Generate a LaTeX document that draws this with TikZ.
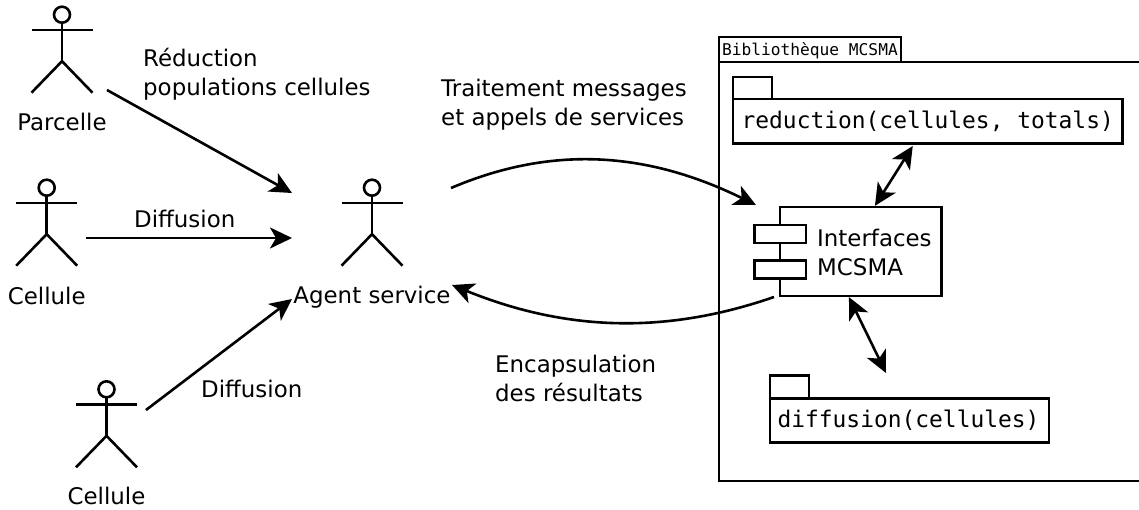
\documentclass[tikz,border=0pt]{standalone}
\usepackage{fontspec}
\setmainfont{DejaVu Sans}
\setmonofont{DejaVu Sans Mono}
\usetikzlibrary{arrows.meta,calc}
\tikzset{
  ln/.style={line width=2.6pt,draw=black},
  conn/.style={line width=2.6pt,draw=black,-{Stealth[length=22pt,width=21pt,inset=6pt]}},
  biconn/.style={line width=2.6pt,draw=black,{Stealth[length=22pt,width=21pt,inset=6pt]}-{Stealth[length=22pt,width=21pt,inset=6pt]}},
  lab/.style={inner sep=0pt,anchor=base west,font=\fontsize{22.9}{27}\selectfont},
  actorlab/.style={inner sep=0pt,anchor=base,font=\fontsize{22.9}{27}\selectfont},
  head/.style={circle,ln,fill=white,minimum size=16pt,inner sep=0pt,outer sep=0pt},
  box/.style={ln,fill=white,rectangle,inner sep=0pt,outer sep=0pt,anchor=north west},
  code/.style={box,font=\ttfamily\fontsize{22.9}{27}\selectfont,text height=19pt,text depth=5.5pt},
}
\newcommand{\myactor}[3]{%
  \node[head] (#1) at (#2,#3) {};
  \draw[ln] (#1.south) -- ++(0,38);
  \draw[ln] ($(#1.center)+(-30.5,15.3)$) -- ($(#1.center)+(30.5,15.3)$);
  \draw[ln] ($(#1.center)+(-30.5,78)$) -- ($(#1.center)+(0,46.5)$) -- ($(#1.center)+(30.5,78)$);
}
\begin{document}
\begin{tikzpicture}[x=1pt,y=-1pt]
\useasboundingbox (0,0) rectangle (1139,509);
% library frame
\draw[ln] (1139,62) -- (719,62) -- (719,481) -- (1139,481);
\node[box,minimum width=182pt,minimum height=25pt] (libtab) at (719,37) {};
\node[inner sep=0pt,anchor=base west,font=\ttfamily\fontsize{16.2}{19}\selectfont] (libtitle) at (722,55) {Bibliothèque MCSMA};
% actors
\myactor{parcelle}{62}{14.7}
\myactor{cellA}{46.7}{187.7}
\myactor{agent}{372}{187.7}
\myactor{cellB}{106.5}{389.3}
\node[actorlab] (parcellelab) at (62,130) {Parcelle};
\node[actorlab] (cellAlab) at (46.7,304) {Cellule};
\node[actorlab] (agentlab) at (372,303) {Agent service};
\node[actorlab] (cellBlab) at (106.5,504) {Cellule};
% sub packages
\node[box,minimum width=39pt,minimum height=23pt] (redtab) at (733,77) {};
\node[code,minimum width=389.5pt,minimum height=44.5pt] (redbody) at (733,99) {reduction(cellules, totals)};
\node[box,minimum width=39pt,minimum height=23pt] (difftab) at (770,375.7) {};
\node[code,minimum width=279pt,minimum height=44pt] (diffbody) at (770,398.5) {diffusion(cellules)\kern2pt};
% component
\node[box,minimum width=161.5pt,minimum height=89.3pt] (comp) at (780,206.8) {};
\node[box,minimum width=51.5pt,minimum height=18pt] (portA) at (754.5,225) {};
\node[box,minimum width=51.5pt,minimum height=18pt] (portB) at (754.5,260.5) {};
\node[lab] (compA) at (817,246.5) {Interfaces};
\node[lab] (compB) at (817,275.5) {MCSMA};
% labels
\node[lab] (l1a) at (143,66.5) {Réduction};
\node[lab] (l1b) at (143,95.5) {populations cellules};
\node[lab] (l2) at (134,227) {Diffusion};
\node[lab] (l3) at (201,397) {Diffusion};
\node[lab] (l4a) at (441,96) {Traitement messages};
\node[lab] (l4b) at (441,125) {et appels de services};
\node[lab] (l5a) at (495,372) {Encapsulation};
\node[lab] (l5b) at (495,401) {des résultats};
% connector ends
\coordinate (pOut) at (107,90);
\coordinate (pIn) at (292,193);
\coordinate (cAOut) at (86,238);
\coordinate (cAIn) at (292,238);
\coordinate (cBOut) at (146,410);
\coordinate (cBIn) at (292,299);
\coordinate (sOut) at (451,188);
\coordinate (sIn) at (756,205);
\coordinate (rOut) at (774,297);
\coordinate (rIn) at (452,285);
\draw[conn] (pOut) -- (pIn);
\draw[conn] (cAOut) -- (cAIn);
\draw[conn] (cBOut) -- (cBIn);
\draw[conn] (sOut) .. controls (545,148) and (640,148) .. (sIn);
\draw[conn] (rOut) .. controls (670,333) and (570,333) .. (rIn);
\draw[biconn] ($(redbody.south)+(-15,2.5)$) -- ($(comp.north)+(14.2,-1)$);
\draw[biconn] ($(comp.south)+(-11.8,1)$) -- (886,373);
\end{tikzpicture}
\end{document}
